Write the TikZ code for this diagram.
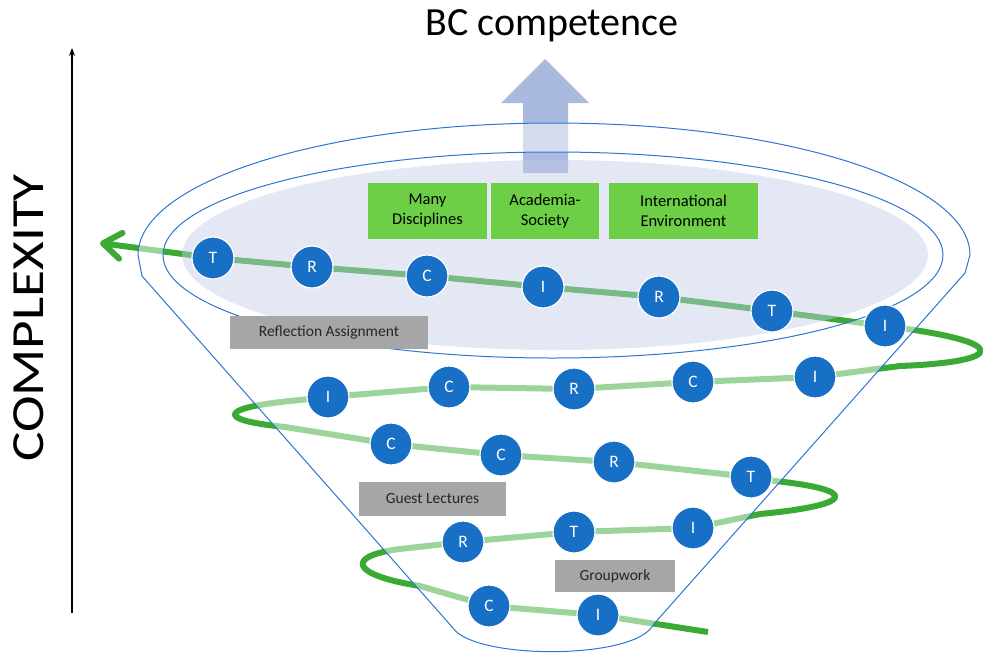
\documentclass[tikz,border=0pt]{standalone}
\usepackage{fontspec}
\setmainfont{Carlito}
\usetikzlibrary{arrows.meta,backgrounds}

\definecolor{spiralgreen}{RGB}{58,170,53}
\definecolor{stationblue}{RGB}{24,112,198}
\definecolor{aimgreen}{RGB}{108,207,70}
\definecolor{taskgray}{RGB}{166,166,166}
\definecolor{funnelblue}{RGB}{46,117,208}
\definecolor{rimlavender}{RGB}{196,205,232}
\definecolor{goalarrow}{RGB}{170,186,222}

% outline of the funnel: upper half of the rim, both sides and the rounded tip
\newcommand{\funnelshape}{(142,276) -- (138,255)
  .. controls (138,182) and (324,123) .. (554,123)
  .. controls (784,123) and (970,182) .. (970,255)
  -- (965,273) -- (653,625)
  .. controls (635,660) and (475,660) .. (453,628) -- cycle}

\begin{document}
\begin{tikzpicture}[x=1pt,y=-1pt]

  \tikzset{station/.style = {circle, fill=stationblue, draw=white,
                             line width=1.2pt, minimum size=42pt,
                             inner sep=0pt, text=white,
                             font=\fontsize{17.5}{17.5}\selectfont},
           aim/.style     = {fill=aimgreen, minimum height=56pt,
                             inner sep=0pt, align=center,
                             font=\fontsize{16.5}{20}\selectfont},
           task/.style    = {fill=taskgray, minimum height=33pt,
                             inner sep=0pt, text={black!85},
                             font=\fontsize{15.5}{18}\selectfont},
           spiral/.style  = {draw=spiralgreen, line width=6pt,
                             line join=round},
           rim/.style     = {draw=funnelblue, line width=1pt}}

\useasboundingbox (0,0) rectangle (983,654);

% axis
\coordinate (low) at (72,613);
\coordinate (high) at (72,48);
\draw [line width=1.4pt, -{Stealth[length=8pt,width=6pt]}] (low) -- (high);
\node [rotate=90, xscale=1.2, anchor=base,
       font=\fontsize{46}{46}\selectfont] (cplx) at (43,318) {COMPLEXITY};

\node [anchor=base, font=\fontsize{40}{40}\selectfont] (goal) at (552,35) {BC competence};

% row 1
\node [station] (s1) at (213,258) {T};
\node [station] (s2) at (312,267) {R};
\node [station] (s3) at (427,276) {C};
\node [station] (s4) at (543,287) {I};
\node [station] (s5) at (659,297) {R};
\node [station] (s6) at (772,311) {T};
\node [station] (s7) at (885,326) {I};

% row 2
\node [station] (s8) at (815,377) {I};
\node [station] (s9) at (693,382) {C};
\node [station] (s10) at (574,389) {R};
\node [station] (s11) at (449,387) {C};
\node [station] (s12) at (328,397) {I};

% row 3
\node [station] (s13) at (391,444) {C};
\node [station] (s14) at (501,455) {C};
\node [station] (s15) at (614,462) {R};
\node [station] (s16) at (751,477) {T};

% row 4
\node [station] (s17) at (693,528) {I};
\node [station] (s18) at (574,532) {T};
\node [station] (s19) at (463,542) {R};

% row 5
\node [station] (s20) at (489,606) {C};
\node [station] (s21) at (598,615) {I};

% aims on the rim
\node [aim, minimum width=119pt] (disc) at (427.5,211) {Many\\Disciplines};
\node [aim, minimum width=108pt] (soc) at (545,211) {Academia-\\Society};
\node [aim, minimum width=149pt] (intl) at (683.5,211) {International\\Environment};

% activities
\node [task, minimum width=198pt] (refl) at (329,332.5) {Reflection Assignment};
\node [task, minimum width=147pt, minimum height=34pt] (guest) at (432.5,499) {Guest Lectures};
\node [task, minimum width=120pt, minimum height=32pt] (group) at (615,576) {Groupwork};

\begin{scope}[on background layer]
  % the spiral through all stations
  \draw [spiral, {Straight Barb[round,length=18pt,width=26pt]}-]
    (100,243) -- (s1.center) -- (s2.center) -- (s3.center) -- (s4.center)
    -- (s5.center) -- (s6.center) -- (s7.center)
    .. controls (1015,342) and (1005,362) .. (900,366)
    -- (s8.center) -- (s9.center) -- (s10.center) -- (s11.center) -- (s12.center)
    -- (290,401) .. controls (220,408) and (215,420) .. (285,427)
    -- (s13.center) -- (s14.center) -- (s15.center) -- (s16.center)
    -- (775,481) .. controls (860,490) and (855,505) .. (760,514)
    -- (s17.center) -- (s18.center) -- (s19.center)
    -- (400,549) .. controls (345,556) and (350,575) .. (420,586)
    -- (s20.center) -- (s21.center) -- (708,632);

  % arrow up to the goal
  \fill [goalarrow] (523,173) -- (523,103) -- (501,103) -- (545,59)
    -- (589,103) -- (568,103) -- (568,173) -- cycle;

  % funnel body and top surface
  \fill [white, fill opacity=0.5, even odd rule] \funnelshape
    (553,255) ellipse [x radius=390pt, y radius=103pt];
  \fill [rimlavender, fill opacity=0.45] (555,255) ellipse [x radius=373pt, y radius=95pt];
  \draw [rim] \funnelshape;
  \draw [rim] (553,255) ellipse [x radius=390pt, y radius=103pt];
\end{scope}

\end{tikzpicture}
\end{document}
